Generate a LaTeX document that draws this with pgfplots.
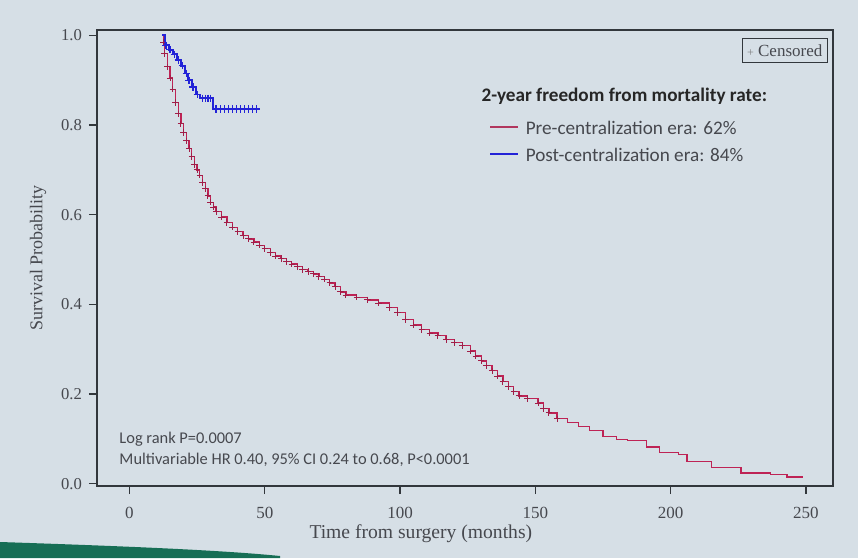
\documentclass[border=0pt]{standalone}
\usepackage{fontspec}
\setmainfont{Liberation Serif}
\newfontfamily\calib{Carlito}
\usepackage{pgfplots}
\pgfplotsset{compat=1.18}
\usepackage{pgfplotstable}
\definecolor{bg}{RGB}{214,223,230}
\definecolor{redkm}{RGB}{190,35,85}
\definecolor{bluekm}{RGB}{35,35,215}
\definecolor{axcol}{RGB}{50,55,60}
\definecolor{txtcol}{RGB}{70,72,78}
\definecolor{strip}{RGB}{22,110,85}

\pgfplotstableread{
x y
12 1.000
12.5 0.985
13 0.960
14 0.930
15 0.905
16 0.880
17 0.850
18 0.825
19 0.803
20 0.783
21 0.765
22 0.748
23 0.730
24 0.712
25 0.700
26 0.688
27 0.672
28 0.658
29 0.642
30 0.628
31 0.617
32 0.607
34 0.595
36 0.583
38 0.572
40 0.562
42 0.553
44 0.546
46 0.539
48 0.532
50 0.524
52 0.516
54 0.508
56 0.502
58 0.496
60 0.490
62 0.484
64 0.478
66 0.473
68 0.468
70 0.462
72 0.456
74 0.448
76 0.440
78 0.428
80 0.421
84 0.416
88 0.410
92 0.403
96 0.393
99 0.382
102 0.366
105 0.354
108 0.344
111 0.336
114 0.330
117 0.322
120 0.315
123 0.308
126 0.296
128 0.285
130 0.274
132 0.263
134 0.252
136 0.240
138 0.228
140 0.217
142 0.206
144 0.196
147 0.190
151 0.180
153 0.168
155 0.158
158 0.145
162 0.136
166 0.128
170 0.118
175 0.106
180 0.099
184 0.097
191 0.082
196 0.070
203 0.065
206 0.050
215 0.036
226 0.024
237 0.020
243 0.015
249 0.015
}\redtab

\pgfplotstableread{
x y
12 1.000
13 0.978
14.5 0.968
16 0.958
17.5 0.945
19 0.932
20.5 0.915
21.5 0.900
23 0.885
24.5 0.868
26 0.860
31 0.836
47 0.836
}\bluetab

\pgfplotstableread{
x y
13.5 0.978
15 0.968
16.5 0.958
18 0.945
19.5 0.932
21 0.915
22 0.900
23.5 0.885
25 0.868
27 0.860
28 0.860
29 0.860
30 0.860
32 0.836
33.5 0.836
35 0.836
36.5 0.836
38 0.836
39.5 0.836
41 0.836
42.5 0.836
44 0.836
45.5 0.836
47 0.836
}\bluecens

\begin{document}
\begin{tikzpicture}
\fill[bg] (0pt,0pt) rectangle (429pt,279pt);
\path[use as bounding box] (0pt,0pt) rectangle (429pt,279pt);
\fill[strip] (0pt,0pt) -- (0pt,8pt) .. controls (60pt,6pt) and (110pt,4pt) .. (140pt,1pt) -- (140pt,0pt) -- cycle;
\begin{axis}[
  at={(48.5pt,36pt)}, anchor=south west,
  scale only axis, width=368pt, height=228pt,
  xmin=-12, xmax=260, ymin=-0.005, ymax=1.012,
  xtick={0,50,100,150,200,250},
  ytick={0,0.2,0.4,0.6,0.8,1.0},
  tick pos=left, tick align=outside, major tick length=4pt,
  axis line style={axcol, line width=0.8pt},
  tick style={axcol, line width=0.7pt},
  /pgf/number format/assume math mode=true,
  yticklabel style={/pgf/number format/fixed, /pgf/number format/fixed zerofill,
    /pgf/number format/precision=1, font=\fontsize{8.3}{9}\selectfont, text=txtcol},
  xticklabel style={font=\fontsize{8.5}{9}\selectfont, text=txtcol, yshift=-3pt},
  xlabel={Time from surgery (months)},
  ylabel={Survival Probability},
  xlabel style={font=\fontsize{9.8}{11}\selectfont, text=txtcol, at={(axis description cs:0.44,-0.105)}, anchor=center},
  ylabel style={font=\fontsize{9}{10}\selectfont, text=txtcol, at={(axis description cs:-0.08,0.5)}, anchor=center},
]
\addplot[const plot, redkm, line width=0.65pt] table {\redtab};
\addplot[only marks, mark=+, mark size=1.6pt, redkm!85!black, line width=0.45pt, restrict x to domain=12.4:160] table {\redtab};
\addplot[const plot, bluekm, line width=0.9pt] table {\bluetab};
\addplot[only marks, mark=+, mark size=1.8pt, bluekm, line width=0.6pt] table {\bluecens};

\node[draw=axcol, line width=0.5pt, anchor=north east, inner xsep=2.5pt, inner ysep=3pt, font=\fontsize{8.5}{9}\selectfont, text=txtcol]
  at (rel axis cs:0.993,0.982) {\textcolor{gray}{\fontsize{6}{6}\selectfont+} Censored};
\node[anchor=west, font=\calib\bfseries\fontsize{9.6}{11}\selectfont, text=black!85, inner sep=0pt]
  at (rel axis cs:0.522,0.855) {2-year freedom from mortality rate:};
\draw[redkm!80!gray, line width=0.9pt] (rel axis cs:0.534,0.788) -- (rel axis cs:0.572,0.788);
\draw[bluekm, line width=0.9pt] (rel axis cs:0.534,0.728) -- (rel axis cs:0.572,0.728);
\node[anchor=west, font=\calib\fontsize{9.6}{11}\selectfont, text=txtcol, inner sep=0pt]
  at (rel axis cs:0.582,0.786) {Pre-centralization era: 62\%};
\node[anchor=west, font=\calib\fontsize{9.6}{11}\selectfont, text=txtcol, inner sep=0pt]
  at (rel axis cs:0.582,0.725) {Post-centralization era: 84\%};
\node[anchor=west, font=\calib\fontsize{8.2}{9}\selectfont, text=txtcol, inner sep=0pt]
  at (rel axis cs:0.03,0.103) {Log rank P=0.0007};
\node[anchor=west, font=\calib\fontsize{8.2}{9}\selectfont, text=txtcol, inner sep=0pt]
  at (rel axis cs:0.03,0.057) {Multivariable HR 0.40, 95\% CI 0.24 to 0.68, P<0.0001};
\end{axis}
\end{tikzpicture}
\end{document}
